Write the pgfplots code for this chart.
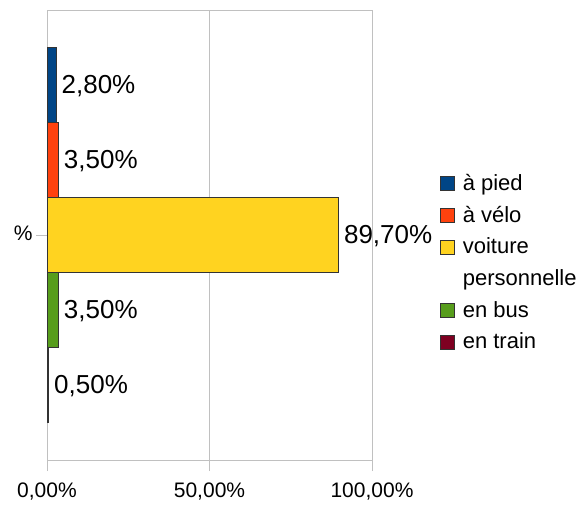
\documentclass[border=0pt]{standalone}
\usepackage{fontspec}
\setmainfont{Liberation Sans}
\usepackage{pgfplots}
\pgfplotsset{compat=1.18}

\definecolor{cpied}{HTML}{004586}
\definecolor{cvelo}{HTML}{FF420E}
\definecolor{cvoit}{HTML}{FFD320}
\definecolor{cbus}{HTML}{579D1C}
\definecolor{ctrain}{HTML}{7E0021}
\definecolor{gridgray}{HTML}{C0C0C0}

\begin{document}
\begin{tikzpicture}
\begin{axis}[
    name=ax,
    scale only axis,
    width=325pt,
    height=450pt,
    xbar,
    bar width=1,
    bar shift=0pt,
    xmin=0, xmax=100,
    ymin=-3, ymax=3,
    xtick={0,50,100},
    xticklabels={{0,00\%},{50,00\%},{100,00\%}},
    ytick={0},
    yticklabels={\%},
    xtick pos=lower,
    ytick pos=left,
    tick align=outside,
    major tick length=11pt,
    xmajorgrids,
    grid style={gridgray},
    axis line style={gridgray},
    tick style={gridgray, line width=0.8pt},
    /pgf/number format/assume math mode=true,
    ticklabel style={font=\fontsize{21}{25}\selectfont, text=black},
    xticklabel style={yshift=-8pt},
    yticklabel style={yshift=1.5pt},
    point meta=x,
    nodes near coords={\pgfmathprintnumber[fixed,fixed zerofill,precision=2,use comma]{\pgfplotspointmeta}\%},
    nodes near coords style={font=\fontsize{26}{30}\selectfont, anchor=west, xshift=2pt, yshift=-1.5pt, text=black},
    legend image code/.code={\draw[#1, draw=black!80, line width=0.6pt] (0pt,0pt) rectangle (14pt,14pt);},
    legend style={draw=none, fill=none, at={(1,0.5)}, anchor=west, xshift=68pt, yshift=-28pt,
        font=\fontsize{22}{26}\selectfont, row sep=11.2pt, column sep=6pt, inner sep=0pt,
        cells={anchor=base west, inner sep=0pt, text height=15pt, text depth=5pt}},
]
\addplot[fill=cpied, draw=black!80] coordinates {(2.8,2)};
\addlegendentry{à pied}
\addplot[fill=cvelo, draw=black!80] coordinates {(3.5,1)};
\addlegendentry{à vélo}
\addplot[fill=cvoit, draw=black!80] coordinates {(89.7,0)};
\addlegendentry{voiture}
\addlegendimage{empty legend}
\addlegendentry{personnelle}
\addplot[fill=cbus, draw=black!80] coordinates {(3.5,-1)};
\addlegendentry{en bus}
\addplot[fill=ctrain, draw=black!80] coordinates {(0.5,-2)};
\addlegendentry{en train}
\end{axis}
\pgfresetboundingbox
\path ([shift={(-47pt,-46pt)}]ax.south west) rectangle ([shift={(206pt,10pt)}]ax.north east);
\end{tikzpicture}
\end{document}
